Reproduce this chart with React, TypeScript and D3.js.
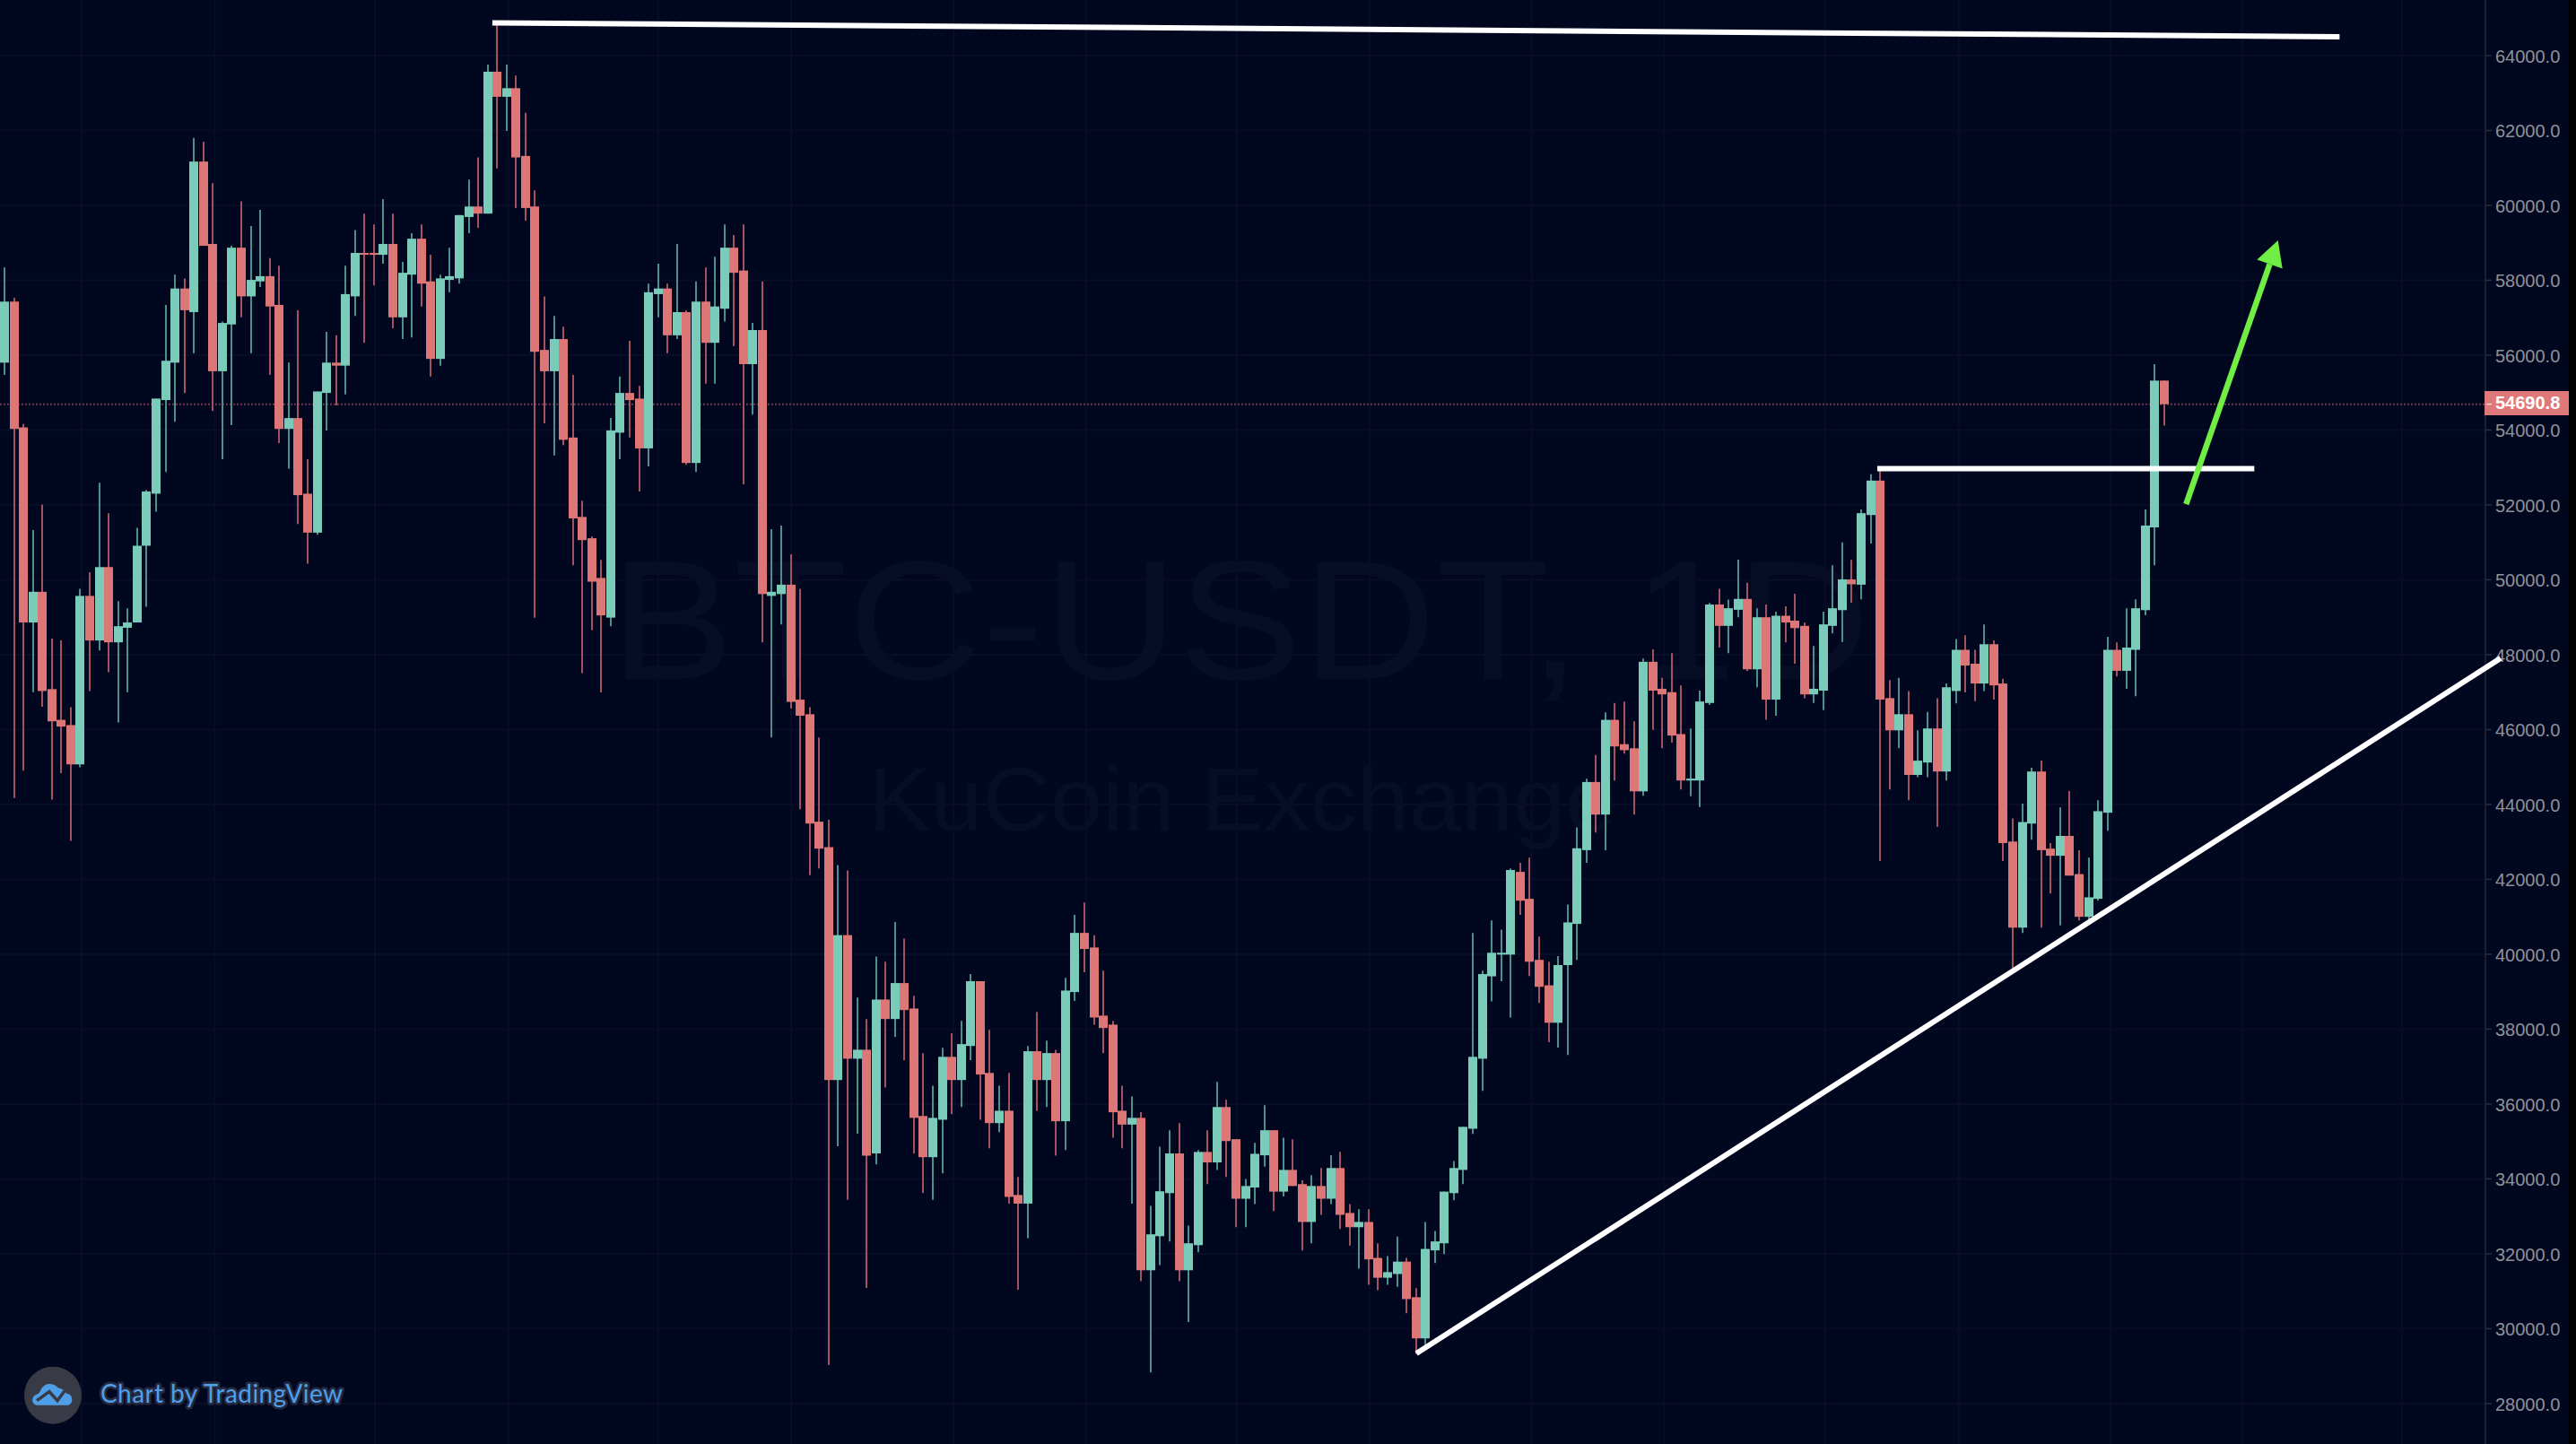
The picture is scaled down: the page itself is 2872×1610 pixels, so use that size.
import React from "react";
import * as d3 from "d3";

// [open, high, low, close]
const candlesA = [
[55800,58340,55470,57430],[57430,57530,44170,54030],[54070,54160,44900,48860],[48860,51330,47000,49680],[49680,52010,46610,47030],[47080,48430,44130,46220],[46260,48380,44840,46080],[46120,46600,43030,45070],[45070,49760,44990,49570],[49570,50200,47030,48380],
[48380,52590,48110,50340],[50340,51780,47530,48330],[48330,49430,46190,48760],[48720,49240,47000,48860],[48860,51390,48860,50910],[50910,52400,49280,52360],[52300,54840,51820,54840],[54800,57340,52880,55850],[55800,58150,54220,57780],[57780,58050,54990,57200],
[57150,61800,56050,61170],[61170,61700,58920,58920],[58970,60590,54510,55570],[55570,56900,53220,56860],[56820,58920,54130,58870],[58870,60110,57010,57570],[57570,59450,56050,58010],[57970,59880,57820,58110],[58110,58590,55470,57300],[57340,58390,53650,54030],
[54030,55800,52970,54320],[54320,57200,51490,52260],[52300,53220,50430,51260],[51260,55030,51200,55030],[54990,56620,53990,55800],[55800,56530,54660,55720],[55720,58390,54950,57630],[57570,59340,57050,58730],[58730,59780,56330,58680],[58730,59490,57860,58680],
[58680,60170,58440,58970],[58970,59780,56720,57010],[57010,58490,56430,58200],[58150,59260,56470,59110],[59110,59490,57300,57910],[57970,58680,55430,55900],
];
const candlesB = [
[55900,58150,55720,58050],[58010,58870,57680,58110],[58050,59740,57910,59740],[59690,60690,59260,59970],[59970,61280,59400,59780],[59780,63760,59780,63570],[63570,64830,60990,62900],[62900,63760,61990,63130],[63130,63470,59930,61280],[61320,62470,59590,59930],
[59970,60400,48990,56090],[56140,57570,54180,55570],[55570,57050,53320,56430],[56430,56760,53600,53740],[53800,55470,50390,51640],[51680,52110,47510,51060],[51110,51160,48660,49950],[50050,50530,46990,49050],[48990,54320,48760,53990],[53930,55430,53220,54990],
[54990,56380,53800,54800],[54840,55180,52360,53510],[53510,57910,53030,57680],[57630,58440,57010,57780],[57780,57910,56050,56530],[56530,58970,56430,57150],[57150,57200,53070,53120],[53120,57970,52880,57430],[57430,58340,55240,56330],[56330,58630,55240,57300],
[57240,59490,56900,58870],[58870,59210,56240,58200],[58260,59490,52550,55760],[55760,56860,54410,56670],[56670,57970,48330,49620],[49570,51350,45790,49680],[49620,51450,48810,49870],[49870,50680,46560,46740],[46800,49760,43870,46370],[46410,46600,42110,43490],
[43540,45790,42290,42820],[42860,43590,29030,36640],
];
const candlesC = [
[36640,42380,34870,40510],[40510,42240,33440,37210],[37210,38840,35210,37450],[37450,38270,31090,34620],[34680,39940,34390,38790],[38790,39800,36440,38270],[38270,40860,37790,39230],[39230,40420,37170,38510],[38550,38890,34680,35630],[35680,37360,33620,34580],
[34580,36490,33440,35630],[35580,37500,34150,37260],[37260,37890,35730,36640],[36640,38220,35920,37600],[37550,39470,37170,39280],[39280,39280,35580,36790],[36830,37980,34820,35490],[35490,36490,35250,35820],[35820,36830,33340,33520],[33570,34050,31040,33340],
[33340,37550,32420,37410],[37410,38460,35820,36640],[36640,37690,35920,37360],[37360,37450,34620,35540],[35540,39370,34770,39030],[38990,41050,38750,40570],[40570,41380,39520,40140],[40180,40510,38120,38310],[38360,39560,37360,38030],[38120,38220,35100,35780],
[35820,36490,34820,35450],[35450,36200,33340,35630],[35630,35780,31270,31560],[31560,33280,28830,32520],[32470,34860,31700,33670],[33620,35300,32330,34680],[34680,35490,31270,31560],[31560,32750,30180,32280],[32230,34770,32040,34720],[34720,35300,33860,34440],
[34440,36590,34240,35920],
];
const candlesD = [
[35920,36110,34050,35010],[35060,35060,32710,33470],[33470,34000,32710,33810],[33770,34960,33330,34670],[34630,35970,34330,35300],[35300,35300,33140,33660],[33660,35100,33530,34240],[34240,35060,33810,33810],[33860,33960,32090,32850],[32850,34100,32280,33810],
[33810,34290,33040,33470],[33470,34630,33330,34290],[34290,34720,32660,33040],[33090,33330,32220,32710],[32710,33190,31600,32850],[32850,33190,31170,31850],[31890,32280,31030,31360],[31360,31940,31170,31510],[31460,32460,31120,31790],[31790,31890,30410,30790],
[30840,31080,29320,29740],[29740,32850,29540,32130],[32090,32610,31750,32330],[32280,33660,31990,33660],[33620,34480,33430,34290],[34240,35390,33860,35390],[35340,40570,35200,37260],[37210,39560,36350,39470],[39410,40900,38740,40040],[39990,40660,39280,40040],
[39990,42290,38310,42250],[42200,42440,41050,41430],
];
const candlesE = [
[41480,42580,39420,39800],[39850,40470,38700,39130],[39170,39800,37650,38170],[38170,39950,37510,39710],[39710,41330,37310,40850],[40810,43390,39850,42830],[42780,44690,42440,44600],[44600,45320,43250,43730],[43730,46460,42780,46260],[46260,46710,44640,45550],
[45610,46750,45360,45450],[45500,46220,43730,44350],[44350,47900,44230,47810],[47810,48140,45990,47040],[47090,47380,45500,46940],[47000,48040,45650,45840],[45880,47180,44400,44640],[44640,46030,44220,44690],[44640,47040,43930,46750],[46710,49380,46660,49340],
[49340,49760,48190,48770],[48770,49470,48040,49240],[49200,50540,49000,49490],[49490,49920,47560,47610],[47610,49240,47130,49000],[49000,49340,46260,46800],[46800,49150,46370,49040],[49040,49290,48330,48860],[48910,49630,47760,48710],[48770,48860,46840,46940],
[46940,48230,46710,47090],
];
const candlesF = [
[47040,49150,46520,48810],[48770,50390,48570,49240],[49190,51000,48340,50010],[50010,50530,49390,49880],[49870,51880,49480,51780],[51730,52820,50970,52650],[52650,52910,42490,46800],[46840,47320,44400,45980],[45980,47380,45500,46410],[46410,47030,44110,44790],
[44790,45980,44730,45170],[45120,46470,44730,46030],[46030,46840,43400,44880],[44880,47230,44640,47130],[47030,48420,46700,48130],[48130,48520,46990,47710],[47760,48130,46760,47230],[47230,48810,47030,48280],[48280,48380,46800,47180],[47230,47360,42490,42970],
[43010,43630,39560,40710],[40710,44020,40570,43530],[43490,44980,43060,44880],[44880,45170,40710,42780],[42820,42970,41620,42630],[42630,43920,40770,43160],[43160,44360,42100,42100],[42140,42780,40900,41000],[41000,42580,40850,41520],[41480,44110,41430,43820],
[43780,48480,43300,48130],[48130,48330,47420,47570],[47570,49240,47090,48190],[48130,49480,46890,49240],[49190,51880,49050,51450],[51400,55760,50390,55320],[55320,55320,54120,54690],
];
const candles = [...candlesA, ...candlesB, ...candlesC, ...candlesD, ...candlesE, ...candlesF];

const priceTicks = [64000,62000,60000,58000,56000,54000,52000,50000,48000,46000,44000,42000,40000,38000,36000,34000,32000,30000,28000];
const timeGrid = [8.14,22.2,39.1,53.2,69,83.05,100.2,114.2,130.1,144.1,161.2,175.2,192.2,206.3,222.3,236.2,253.1];
const lastPrice = 54690.8;

// drawings: [index, price] end points
const resistanceTop = [[51.5,64877],[246.5,64503]];
const resistanceMid = [[197.7,52969],[237.5,52969]];
const supportLine = [[149.05,29337],[263.5,47906]];
const arrowLine = [[230.3,52020],[240,59064]];

const W = 2872, H = 1610;
const PLOT_R = 2771, IMG_R = 2864;
const BG = "#020720", UP = "#7acbb9", DOWN = "#dd7777", UPW = "#4f8f8a", DOWNW = "#a2535f";

const x = d3.scaleLinear().domain([0, 228]).range([5, 2413]);
const y = d3.scaleLinear().domain([64000, 28000]).range([62, 1564.9]);
const seg = d3.line<number[]>().x((d) => x(d[0])).y((d) => y(d[1]));

function Arrow() {
  const [a, b] = arrowLine;
  const x0 = x(a[0]), y0 = y(a[1]), x1 = x(b[0]), y1 = y(b[1]);
  const len = Math.hypot(x1 - x0, y1 - y0);
  const ux = (x1 - x0) / len, uy = (y1 - y0) / len;
  const L = 28, HW = 15;
  const bx = x1 - ux * L, by = y1 - uy * L;
  return (
    <g>
      <line x1={x0} y1={y0} x2={bx} y2={by} stroke="#70ee45" strokeWidth={6.5} />
      <polygon
        points={`${x1},${y1} ${bx - uy * HW},${by + ux * HW} ${bx + uy * HW},${by - ux * HW}`}
        fill="#70ee45"
      />
    </g>
  );
}

export default function App() {
  const lastY = y(lastPrice);
  return (
    <svg width={W} height={H} viewBox={`0 0 ${W} ${H}`} style={{ position: "absolute", left: 0, top: 0, display: "block" }}>
      <rect width={W} height={H} fill="#000" />
      <rect width={IMG_R} height={H} fill={BG} />
      <g stroke="#090d26" strokeWidth={2}>
        {timeGrid.map((t) => (
          <line key={t} x1={x(t)} x2={x(t)} y1={0} y2={H} />
        ))}
        {priceTicks.map((p) => (
          <line key={p} x1={0} x2={PLOT_R} y1={y(p)} y2={y(p)} />
        ))}
      </g>
      <g fill="#080d26" fontFamily="'Liberation Sans', sans-serif">
        <text x={680} y={757} fontSize={190} textLength={1405} lengthAdjust="spacingAndGlyphs">BTC-USDT, 1D</text>
        <text x={968} y={926} fontSize={100} textLength={835} lengthAdjust="spacingAndGlyphs">KuCoin Exchange</text>
      </g>
      <line x1={0} x2={PLOT_R} y1={lastY} y2={lastY} stroke="#70394a" strokeWidth={2} strokeDasharray="2 2" />
      <g>
        {candles.map(([o, h, l, c], i) => {
          const up = c >= o;
          const cx = Math.round(x(i));
          const top = y(Math.max(o, c));
          const bot = y(Math.min(o, c));
          return (
            <g key={i}>
              <line x1={cx} x2={cx} y1={y(h)} y2={y(l)} stroke={up ? UPW : DOWNW} strokeWidth={2} />
              <rect x={cx - 5} y={top} width={10} height={Math.max(bot - top, 2)} fill={up ? UP : DOWN} />
            </g>
          );
        })}
      </g>
      <line x1={PLOT_R} x2={PLOT_R} y1={0} y2={H} stroke="#1a1f36" strokeWidth={2} />
      <g fontFamily="'Liberation Sans', sans-serif" fontSize={20} fill="#8f9199">
        {priceTicks.map((p) => (
          <g key={p}>
            <line x1={PLOT_R + 1} x2={PLOT_R + 7} y1={y(p)} y2={y(p)} stroke="#2a2e42" strokeWidth={1.5} />
            <text x={2782} y={y(p) + 8}>{d3.format(".1f")(p)}</text>
          </g>
        ))}
      </g>
      <rect x={2770} y={436} width={94} height={27} fill="#df7979" />
      <line x1={PLOT_R + 1} x2={PLOT_R + 7} y1={lastY} y2={lastY} stroke="#f3d0d0" strokeWidth={1.5} />
      <text x={2782} y={456} fontFamily="'Liberation Sans', sans-serif" fontSize={20} fontWeight="bold" fill="#fff">
        {d3.format(".1f")(lastPrice)}
      </text>
      <g stroke="#fff" strokeWidth={6} fill="none">
        <path d={seg(resistanceTop) ?? ""} />
        <path d={seg(resistanceMid) ?? ""} />
        <path d={seg(supportLine) ?? ""} />
      </g>
      <Arrow />
      <g transform="translate(59,1555.7)">
        <circle r={32} fill="#383a46" />
        <path
          d="M-17 11 C-24 11 -25 1 -18 -1 C-16 -2 -15 -3 -14 -5 C-11 -13 -2 -15 4 -10 C6 -8 8 -8 10 -7 C13 -6 14 -4 15 -2 C22 -2 24 9 17 11 Z"
          fill="#4f9fe8"
        />
        <path d="M-18 6 L-4 -4 L5 6 L13 -5" fill="none" stroke="#383a46" strokeWidth={3.5} />
      </g>
      <text
        x={112}
        y={1564}
        fontFamily="Lato, 'Open Sans', sans-serif"
        fontSize={28}
        fill="#4f9fe8"
        stroke="#252a40"
        strokeWidth={5}
        strokeLinejoin="round"
        paintOrder="stroke"
        textLength={270}
        lengthAdjust="spacing"
      >
        Chart by TradingView
      </text>
    </svg>
  );
}
